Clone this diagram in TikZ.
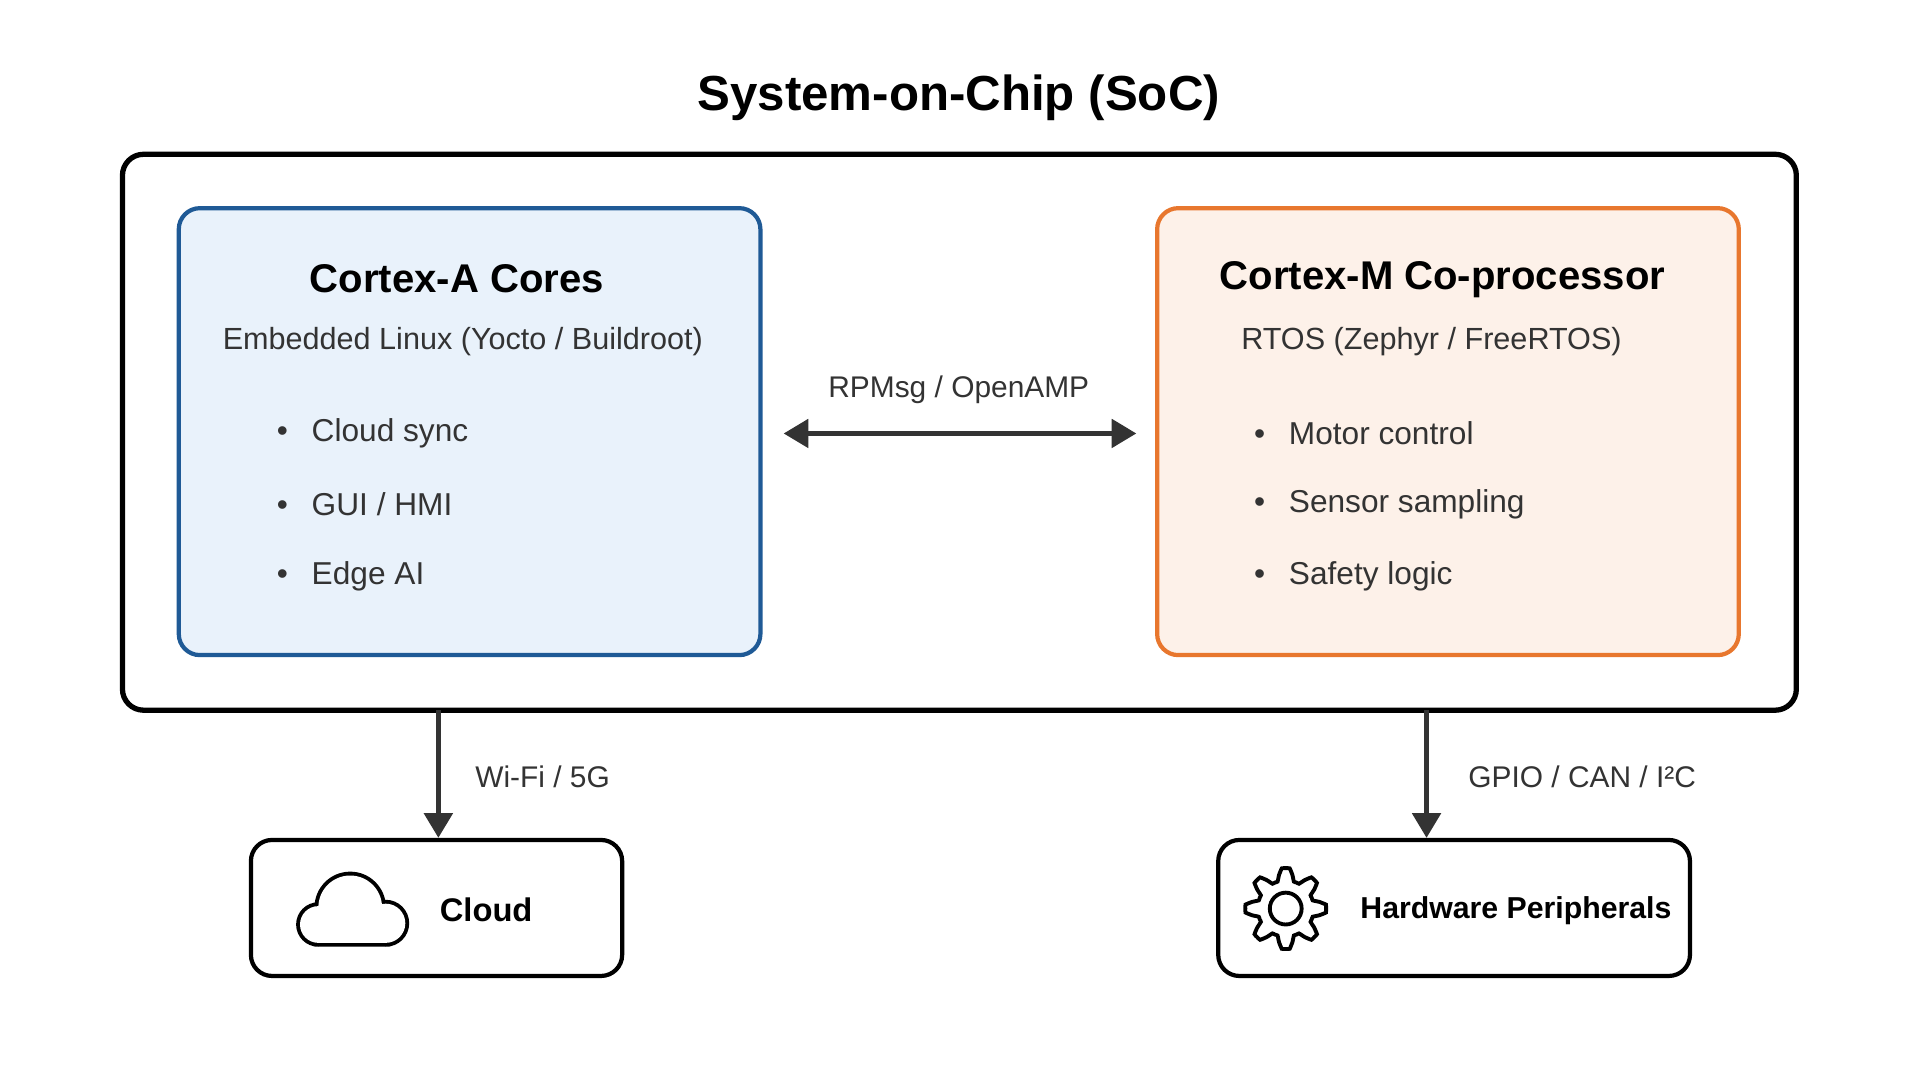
\documentclass[tikz,border=0pt]{standalone}
\usepackage{fontspec}
\setmainfont{Liberation Sans}
\usetikzlibrary{arrows.meta}
\definecolor{ablue}{HTML}{1F5A96}
\definecolor{afill}{HTML}{E9F2FB}
\definecolor{morange}{HTML}{E8772E}
\definecolor{mfill}{HTML}{FDF1E9}
\definecolor{txt}{HTML}{333333}
\tikzset{
  px/.style={x=0.012245cm, y=-0.012245cm},
  box/.style={draw, rounded corners=6pt, line width=1.2pt},
  head/.style={font=\fontsize{11.4}{14}\selectfont\bfseries, text=black},
  sub/.style={font=\fontsize{8.7}{11}\selectfont, text=txt},
  item/.style={font=\fontsize{9}{11}\selectfont, text=txt, anchor=west},
  lbl/.style={font=\fontsize{8.5}{10}\selectfont, text=txt},
  link/.style={draw=txt, line width=1.3pt, -{Triangle[length=7pt,width=8pt]}},
}
\begin{document}
\begin{tikzpicture}[px]
        \useasboundingbox (0,0) rectangle (1568,880);
        \node[font=\fontsize{14}{17}\selectfont\bfseries] (title) at (783,80) {System-on-Chip (SoC)};
        \draw[box, line width=1.5pt] (100,126) rectangle (1467,580);
        \coordinate (socL) at (358,580);
        \coordinate (socR) at (1165,580);
        \draw[box, draw=ablue, fill=afill] (146,170) rectangle (621,535);
        \draw[box, draw=morange, fill=mfill] (945,170) rectangle (1420,535);
        \node[head] (ahead) at (373,228) {Cortex-A Cores};
        \node[sub] (asub) at (378,279) {Embedded Linux (Yocto / Buildroot)};
        \node[item] (a1) at (216,354) {•\hspace{0.75em}Cloud sync};
        \node[item] (a2) at (216,412) {•\hspace{0.75em}GUI / HMI};
        \node[item] (a3) at (216,471) {•\hspace{0.75em}Edge AI};
        \node[head] (mhead) at (1178,228) {Cortex-M Co-processor};
        \node[sub] (msub) at (1169,279) {RTOS (Zephyr / FreeRTOS)};
        \node[item] (m1) at (1014,354) {•\hspace{0.75em}Motor control};
        \node[item] (m2) at (1014,412) {•\hspace{0.75em}Sensor sampling};
        \node[item] (m3) at (1014,471) {•\hspace{0.75em}Safety logic};
        \coordinate (ipcA) at (640,354);
        \coordinate (ipcM) at (928,354);
        \draw[link, {Triangle[length=7pt,width=8pt]}-{Triangle[length=7pt,width=8pt]}] (ipcA) -- (ipcM);
        \node[lbl] (ipc) at (783,318) {RPMsg / OpenAMP};
        % bottom blocks
        \node[box, minimum width=303*0.12245mm, minimum height=111*0.12245mm] (cloud) at (356.5,741.5) {};
        \node[box, minimum width=385*0.12245mm, minimum height=111*0.12245mm] (hw) at (1187.5,741.5) {};
        \draw[link] (socL) -- (cloud.north -| socL);
        \draw[link] (socR) -- (hw.north -| socR);
        \node[lbl, anchor=west] (wifi) at (378,634) {Wi-Fi / 5G};
        \node[lbl, anchor=west] (gpio) at (1189,634) {GPIO / CAN / I²C};
        \node[font=\fontsize{9.3}{12}\selectfont\bfseries] (cloudt) at (397,743) {Cloud};
        \node[font=\fontsize{8.6}{11}\selectfont\bfseries] (hwt) at (1238,744) {Hardware Peripherals};
        % cloud icon
        \begin{scope}[shift={(288,743)}, x=0.012245cm, y=0.012245cm]
          \draw[line width=2.2pt] (-28,-12) circle[radius=15] (27,-11) circle[radius=16]
            (-2,2) circle[radius=26] (-28,-27) rectangle (27,-11);
          \fill[white] (-28,-12) circle[radius=15];
          \fill[white] (27,-11) circle[radius=16];
          \fill[white] (-2,2) circle[radius=26];
          \fill[white] (-28,-27) rectangle (27,-11);
        \end{scope}
        % gear icon
        \draw[line width=1.1pt] plot[smooth cycle, tension=0.2, samples=65, domain=0:360, variable=\t]
          ({1050+(28+5*max(-1,min(1,3*cos(8*\t))))*cos(\t)}, {742+(28+5*max(-1,min(1,3*cos(8*\t))))*sin(\t)});
        \draw[line width=1.1pt] (1050,742) circle[radius=13];
    \end{tikzpicture}
\end{document}
